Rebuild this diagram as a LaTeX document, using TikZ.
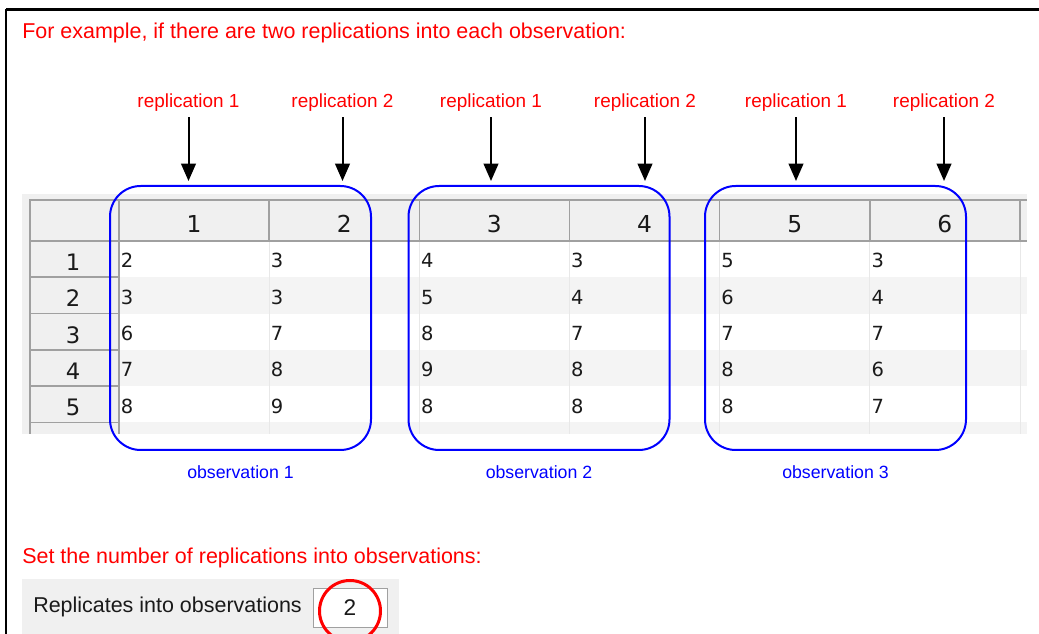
\documentclass[tikz,border=0pt]{standalone}
\usepackage{fontspec}
\setmainfont{Liberation Sans}
\newfontfamily\gridfont{DejaVu Sans}
\usetikzlibrary{positioning,arrows.meta}

\definecolor{hdrgray}{HTML}{F0F0F0}
\definecolor{rowgray}{HTML}{F4F4F4}
\definecolor{linegray}{HTML}{A0A0A0}
\definecolor{faintgray}{HTML}{E8E8E8}
\definecolor{inkgray}{HTML}{1A1A1A}

\begin{document}
\begin{tikzpicture}[x=0.75pt, y=-0.75pt,
		note/.style={text=red, inner sep=0pt, anchor=base west, font=\fontsize{16.1}{18}\selectfont},
		replabel/.style={text=red, inner sep=0pt, anchor=base, font=\fontsize{14.2}{17}\selectfont},
		obslabel/.style={text=blue, inner sep=0pt, font=\fontsize{13.3}{16}\selectfont},
		obsbox/.style={draw=blue, line width=1.5pt, rounded corners=23pt, minimum width=195.75pt, minimum height=198pt, inner sep=0pt},
		pointer/.style={-{Triangle[length=13pt,width=11pt]}, line width=1.5pt, shorten <=4pt, shorten >=3pt},
		cell/.style={inner sep=0pt, anchor=base west, text=inkgray, font=\gridfont\fontsize{14.6}{16}\selectfont},
		colhead/.style={inner sep=0pt, anchor=base, text=inkgray, font=\gridfont\fontsize{17.5}{20}\selectfont},
		rowhead/.style={inner sep=0pt, anchor=base, text=inkgray, font=\gridfont\fontsize{17}{20}\selectfont},
		inputbox/.style={draw=linegray, fill=white, inner sep=0pt, minimum width=55.5pt, minimum height=29.25pt, text=inkgray, font=\fontsize{17}{20}\selectfont}]
		\useasboundingbox (0,0) rectangle (1039,634);
		\coordinate (O) at (6,634);
		\coordinate (A) at (6,9.5);
		\coordinate (B) at (1039,9.5);
		\draw[line width=2pt] (O) -- (A);
		\draw[line width=1.6pt] (A) -- (B);

		\node[note] (intro) at (22,39) {For example, if there are two replications into each observation:};

		% the grid
		\begin{scope}
		\clip (22,194) rectangle (1027,434);
		\fill[hdrgray] (22,194) rectangle (1027,434);
		\fill[white] (119,241) rectangle (1027,434);
		\foreach \r in {2,4,6}
			\fill[rowgray] (119,{241+36.3*(\r-1)}) rectangle (1027,{241+36.3*\r});
		\foreach \c in {1,...,6}
			\draw[faintgray] ({119+150.15*\c},241) -- ({119+150.15*\c},434);
		\draw[linegray, line width=1.5pt] (30,434) -- (30,200) -- (1027,200);
		\draw[linegray, line width=1.5pt] (30,241) -- (1027,241);
		\draw[linegray, line width=1.5pt] (119,241) -- (119,434);
		\foreach \c in {0,...,6}
			\draw[linegray, line width=1.2pt] ({119+150.15*\c},200) -- ({119+150.15*\c},241);
		\foreach \r in {1,...,6}
			\draw[linegray, line width=1.2pt] (30,{241+36.3*\r}) -- (119,{241+36.3*\r});
		\foreach \c in {1,...,6}
			\node[colhead] (head\c) at ({119+150.15*(\c-0.5)},232.7) {\c};
		\foreach \r in {1,...,6}
			\node[rowhead] (row\r) at (73,{241+36.3*(\r-1)+29.5}) {\r};
		\foreach \vals [count=\r] in {{2,3,4,3,5,3},{3,3,5,4,6,4},{6,7,8,7,7,7},{7,8,9,8,8,6},{8,9,8,8,8,7}}
			\foreach \v [count=\c] in \vals
				\node[cell] (cell\c\r) at ({119+150.15*(\c-1)+1.5},{241+36.3*(\r-1)+27}) {\v};
		\end{scope}

		\node[obsbox] (obs1) at (240.5,318) {};
		\node[obsbox] (obs2) at (539,318) {};
		\node[obsbox] (obs3) at (835.5,318) {};
		\node[obslabel, below=10.7pt of obs1] (obsname1) {observation 1};
		\node[obslabel, below=10.7pt of obs2] (obsname2) {observation 2};
		\node[obslabel, below=10.7pt of obs3] (obsname3) {observation 3};

		\foreach \x/\k/\o in {188.5/1/1, 342.5/2/1, 491/1/2, 645/2/2, 796/1/3, 944/2/3} {
			\node[replabel] (rep\k\o) at (\x,107.5) {replication \k};
			\draw[pointer] (rep\k\o.south) -- (rep\k\o.south |- obs\o.north);
		}

		\node[note] (setnote) at (22,563) {Set the number of replications into observations:};
		\fill[hdrgray] (22,579) rectangle (399,634);
		\node[inner sep=0pt, anchor=base west, text=inkgray, font=\fontsize{16.1}{18}\selectfont] (replabel) at (33,612.7) {Replicates into observations};
		\node[inputbox] (valbox) at (350,607.5) {2};
		\node[draw=red, circle, line width=2.25pt, minimum size=45.75pt, inner sep=0pt] (ring) at (350,611) {};
		\end{tikzpicture}
\end{document}
